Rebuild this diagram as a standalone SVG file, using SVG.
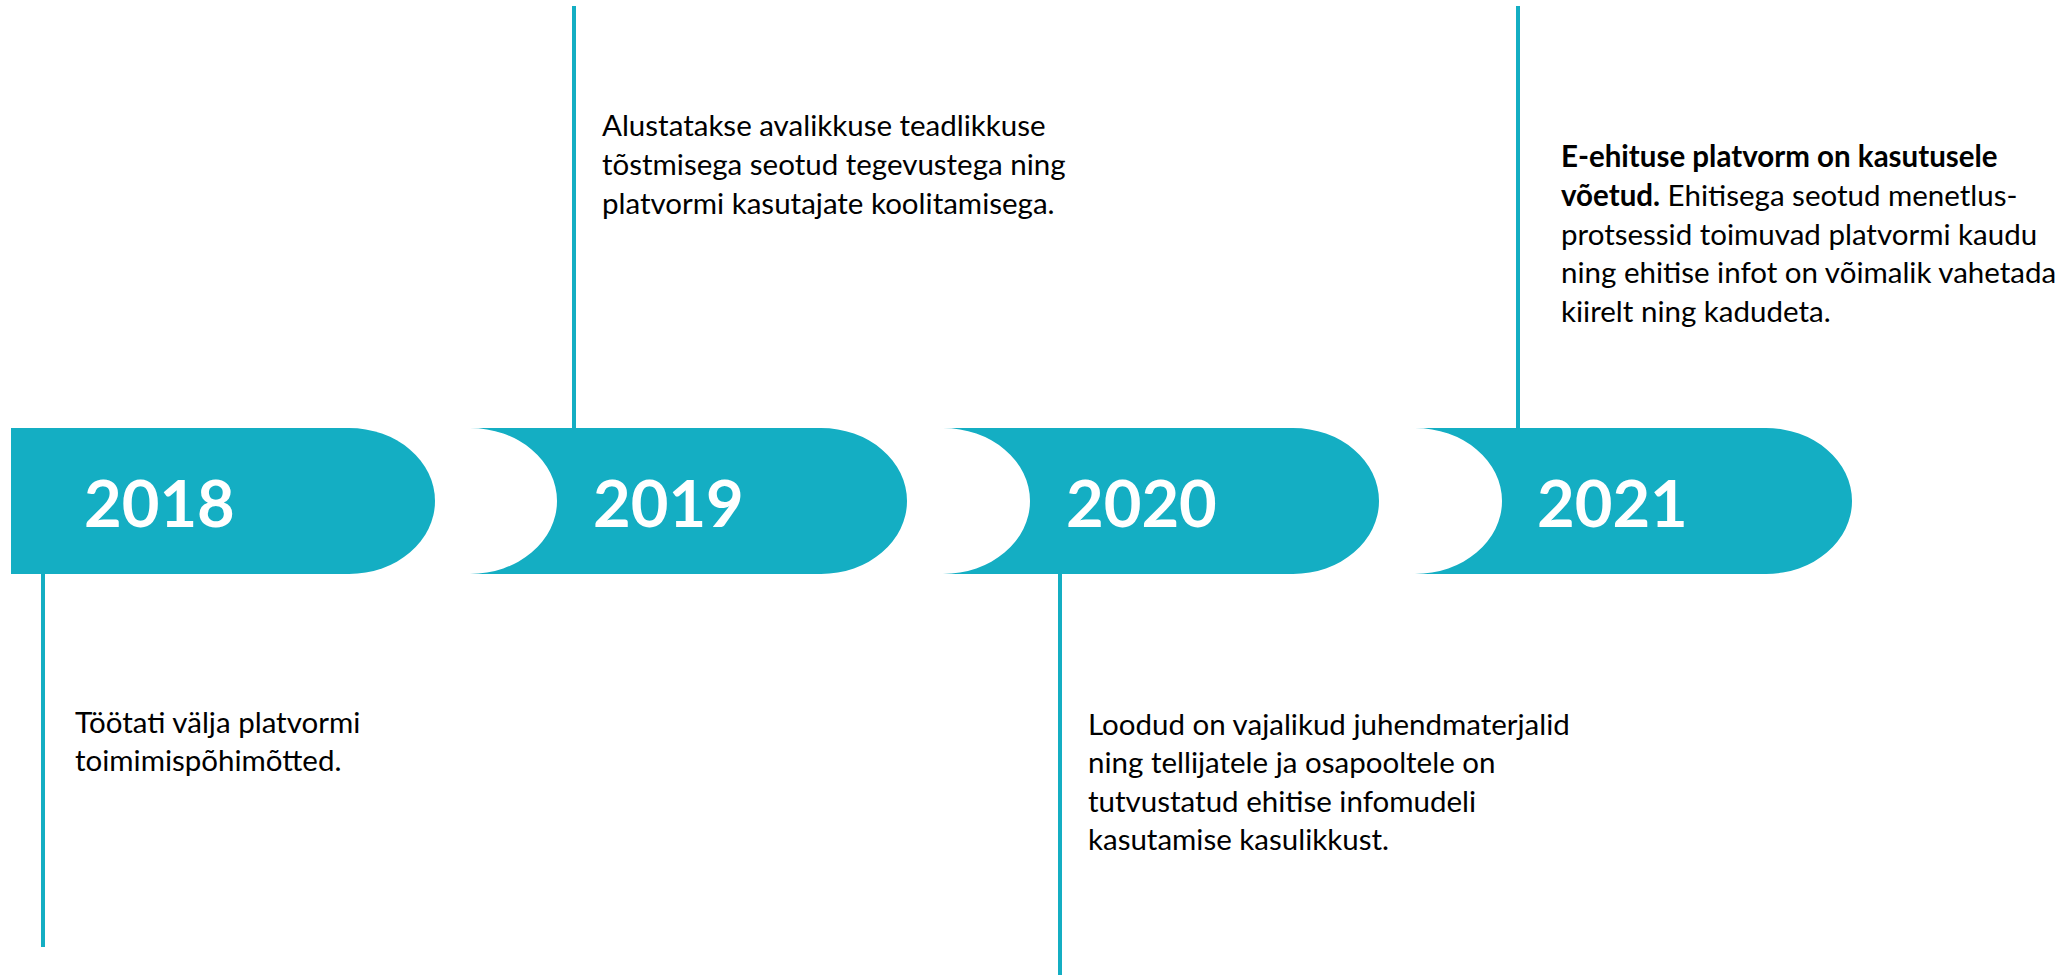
<svg xmlns="http://www.w3.org/2000/svg" width="2069" height="975" viewBox="0 0 2069 975">
<style>
.band{fill:#14AEC3;}
.year{font-family:Lato,"Open Sans",sans-serif;font-weight:700;font-size:65px;fill:#fff;}
.desc{font-family:Lato,"Open Sans",sans-serif;font-size:29.5px;fill:#000;}
.b{font-weight:700;}
.conn{stroke:#14AEC3;stroke-width:4;fill:none;}
</style>
<rect width="2069" height="975" fill="#fff"/>
<g id="connectors">
<line class="conn" x1="43" y1="574" x2="43" y2="947"/>
<line class="conn" x1="574" y1="6" x2="574" y2="428"/>
<line class="conn" x1="1060" y1="574" x2="1060" y2="975"/>
<line class="conn" x1="1518" y1="6" x2="1518" y2="428"/>
</g>
<g id="node-2018">
<path class="band" d="M11,428 H349 A86,73 0 0 1 349,574 H11 Z"/>
<text class="year" x="84" y="527">2018</text>
<text class="desc"><tspan x="75" y="733">Töötati välja platvormi</tspan><tspan x="75" y="771">toimimispõhimõtted.</tspan></text>
</g>
<g id="node-2019">
<path class="band" d="M470,428 H821 A86,73 0 0 1 821,574 H470 A87,73 0 0 0 470,428 Z"/>
<text class="year" x="593" y="527">2019</text>
<text class="desc"><tspan x="602" y="136">Alustatakse avalikkuse teadlikkuse</tspan><tspan x="602" y="175">tõstmisega seotud tegevustega ning</tspan><tspan x="602" y="214">platvormi kasutajate koolitamisega.</tspan></text>
</g>
<g id="node-2020">
<path class="band" d="M943,428 H1293 A86,73 0 0 1 1293,574 H943 A87,73 0 0 0 943,428 Z"/>
<text class="year" x="1066" y="527">2020</text>
<text class="desc"><tspan x="1088" y="735">Loodud on vajalikud juhendmaterjalid</tspan><tspan x="1088" y="773">ning tellijatele ja osapooltele on</tspan><tspan x="1088" y="812">tutvustatud ehitise infomudeli</tspan><tspan x="1088" y="850">kasutamise kasulikkust.</tspan></text>
</g>
<g id="node-2021">
<path class="band" d="M1415,428 H1766 A86,73 0 0 1 1766,574 H1415 A87,73 0 0 0 1415,428 Z"/>
<text class="year" x="1537" y="527">2021</text>
<text class="desc"><tspan x="1561" y="167" class="b">E-ehituse platvorm on kasutusele</tspan><tspan x="1561" y="206"><tspan class="b">võetud.</tspan> Ehitisega seotud menetlus-</tspan><tspan x="1561" y="245">protsessid toimuvad platvormi kaudu</tspan><tspan x="1561" y="283">ning ehitise infot on võimalik vahetada</tspan><tspan x="1561" y="322">kiirelt ning kadudeta.</tspan></text>
</g>
</svg>
